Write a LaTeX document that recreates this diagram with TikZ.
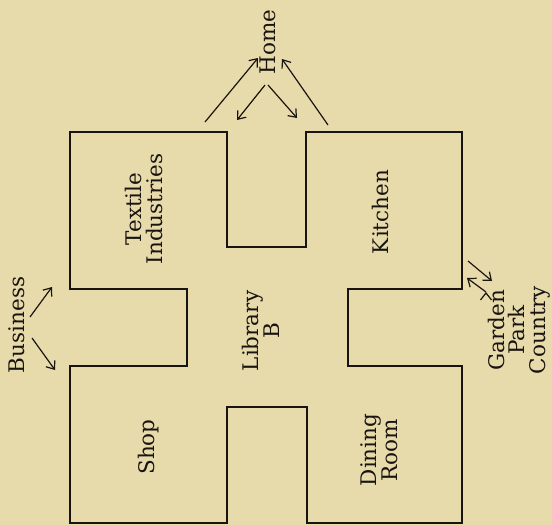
\documentclass[tikz,border=0pt]{standalone}
\usepackage{fontspec}
\setmainfont{DejaVu Serif}
\usepackage{tikz}
\usetikzlibrary{arrows.meta,positioning}

\definecolor{paper}{RGB}{231,219,172}
\definecolor{ink}{RGB}{25,20,15}

\begin{document}
\begin{tikzpicture}[x=1pt,y=-1pt,>={Straight Barb[length=7pt,width=11pt]},
   room/.style={rotate=90,align=center,text=ink,inner sep=0pt,
                font=\fontsize{21.5}{20.5}\selectfont},
   wall/.style={draw=ink,line width=1.6pt,line join=miter},
   way/.style={draw=ink,line width=1.2pt}]
   \useasboundingbox[fill=paper] (0,0) rectangle (552,525);

   % the plan
   \draw[wall] (70,132) -- (227,132) -- (227,247) -- (306,247) -- (306,132)
      -- (462,132) -- (462,289) -- (348,289) -- (348,366) -- (462,366)
      -- (462,523) -- (307,523) -- (307,407) -- (227,407) -- (227,523)
      -- (70,523) -- (70,366) -- (187,366) -- (187,289) -- (70,289) -- cycle;

   % rooms
   \node[room] (textile) at (144,209) {Textile\\Industries};
   \node[room] (kitchen) at (380,212) {Kitchen};
   \node[room] (library) at (261,331) {Library\\B};
   \node[room] (shop)    at (149,447) {Shop};
   \node[room] (dining)  at (379,450) {Dining\\Room};

   % outside
   \node[room] (home)     at (268,42)  {Home};
   \node[room] (business) at (17,325)  {Business};
   \node[room] (garden)   at (519,330) {Garden\\Park\\Country};

   \coordinate (h_1) at (205,122);  \coordinate (h_2) at (258,58);
   \coordinate (h_3) at (265,85);   \coordinate (h_4) at (237,120);
   \coordinate (h_5) at (268,85);   \coordinate (h_6) at (297,118);
   \coordinate (h_7) at (328,125);  \coordinate (h_8) at (282,59);
   \coordinate (b_1) at (30,317);   \coordinate (b_2) at (52,287);
   \coordinate (b_3) at (32,338);   \coordinate (b_4) at (55,370);
   \coordinate (g_1) at (468,261);  \coordinate (g_2) at (492,281);
   \coordinate (g_3) at (486,292);  \coordinate (g_4) at (467,278);

   \path[->,way]
    (h_1) edge (h_2)
    (h_3) edge (h_4)
    (h_5) edge (h_6)
    (h_7) edge (h_8)
    (b_1) edge (b_2)
    (b_3) edge (b_4)
    (g_1) edge (g_2)
    (g_3) edge (g_4);
\end{tikzpicture}
\end{document}
